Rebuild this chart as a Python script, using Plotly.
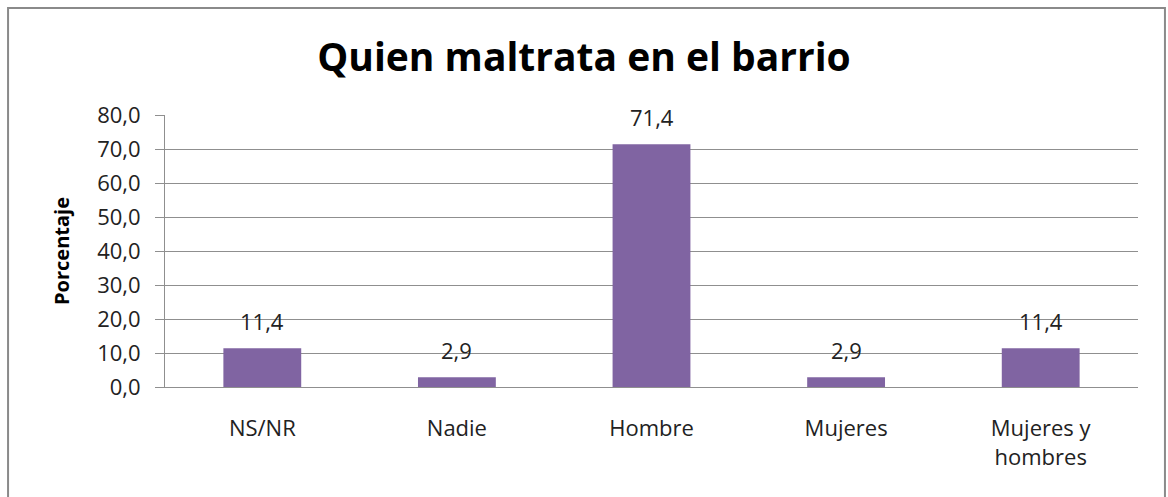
import plotly.graph_objects as go

# datos
categorias = ["NS/NR", "Nadie", "Hombre", "Mujeres", "Mujeres y<br>hombres"]
porcentaje = [11.4, 2.9, 71.4, 2.9, 11.4]
ticks_y = [0, 10, 20, 30, 40, 50, 60, 70, 80]

fuente = "Open Sans"
gris = "#8f8f8f"

fig = go.Figure()
fig.add_trace(go.Bar(
    x=categorias, y=porcentaje,
    marker=dict(color="#8064A2", line=dict(width=0)),
    hoverinfo="x+y",
))

# etiquetas de datos encima de cada barra
for c, v in zip(categorias, porcentaje):
    fig.add_annotation(x=c, y=v, text=f"{v:.1f}".replace(".", ","),
                       showarrow=False, yanchor="bottom", yshift=10,
                       font=dict(size=22, color="#222"))

fig.update_layout(
    width=1168, height=497,
    margin=dict(l=165, r=30, t=115, b=110),
    paper_bgcolor="white", plot_bgcolor="white",
    separators=",.",
    bargap=0.6,
    showlegend=False,
    font=dict(family=fuente, size=22, color="#222"),
    title=dict(text="<b>Quien maltrata en el barrio</b>", x=0.5, xanchor="center",
               y=0.885, yanchor="middle", font=dict(size=39, color="black")),
)
fig.update_yaxes(
    range=[0, 80], tickvals=ticks_y, tickformat=".1f",
    showgrid=True, gridcolor=gris, gridwidth=1,
    showline=True, linecolor=gris, linewidth=1,
    ticks="outside", ticklen=9, tickcolor=gris,
    ticklabelstandoff=10,
    zeroline=False,
    title=dict(text="<b>Porcentaje</b>", font=dict(size=20, color="black"), standoff=22),
)
fig.update_xaxes(
    showline=True, linecolor=gris, linewidth=1,
    ticks="", ticklabelstandoff=22,
    tickfont=dict(size=22, color="#222"),
)

# marco exterior del grafico
fig.add_shape(type="rect", xref="paper", yref="paper",
              x0=-0.1613, x1=1.0277, y0=-0.43, y1=1.393,
              line=dict(color="#8a8a8a", width=2), fillcolor="rgba(0,0,0,0)")

fig.write_html("out.html", config={"displayModeBar": False},
               post_script="document.body.style.margin='0';")
